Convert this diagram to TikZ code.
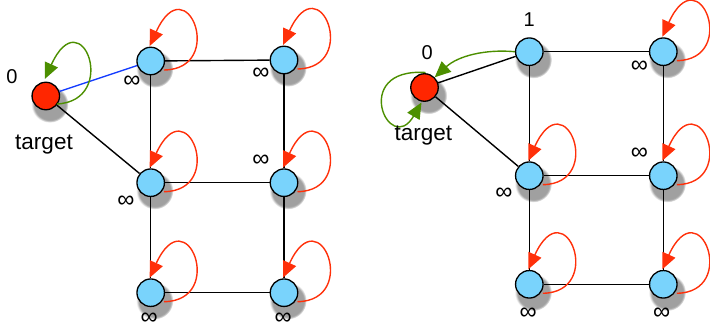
\documentclass[tikz,border=0pt]{standalone}
\usepackage{fontspec}
\setmainfont{Liberation Sans}
\usetikzlibrary{arrows.meta,shadows,calc}
\definecolor{nodeblue}{RGB}{121,211,252}
\definecolor{targetred}{RGB}{255,38,0}
\definecolor{loopred}{RGB}{255,48,10}
\definecolor{pathgreen}{RGB}{76,143,0}
\definecolor{edgeblue}{RGB}{20,60,255}
\tikzset{
  vertex/.style={circle, draw=black, line width=1.3pt, minimum size=27.5pt, inner sep=0pt,
    circular drop shadow={shadow xshift=3pt, shadow yshift=-6pt, shadow scale=1.35, opacity=0.75}},
  bluevertex/.style={vertex, fill=nodeblue},
  targetvertex/.style={vertex, fill=targetred},
  lbl/.style={font=\fontsize{20}{24}\selectfont, inner sep=0pt},
  inflbl/.style={font=\fontsize{24}{26}\selectfont, inner sep=0pt},
  biglbl/.style={font=\fontsize{22.5}{26}\selectfont, inner sep=0pt},
  edge/.style={line width=1.4pt, black},
  selfloop/.style={line width=1.4pt, -{Triangle[length=16pt,width=14pt]}},
  redloop/.style={selfloop, loopred},
  greenloop/.style={selfloop, pathgreen},
}
\begin{document}
\begin{tikzpicture}[x=1pt,y=-1pt]
\useasboundingbox (0,0) rectangle (710,329);

% ---------- first graph ----------
\node[targetvertex] (lt) at (45.8,96) {};
\node[bluevertex] (l11) at (150.7,61) {};
\node[bluevertex] (l12) at (284,60) {};
\node[bluevertex] (l21) at (150.7,182.7) {};
\node[bluevertex] (l22) at (284,182.7) {};
\node[bluevertex] (l31) at (150.7,292.7) {};
\node[bluevertex] (l32) at (284,292.7) {};

\draw[edge] (l11) -- (l12);
\draw[edge] (l11) -- (l21);
\draw[edge] (l12) -- (l22);
\draw[edge] (l21) -- (l22);
\draw[edge] (l21) -- (l31);
\draw[edge] (l22) -- (l32);
\draw[edge] (l31) -- (l32);
\draw[edge] (lt) -- (l21);
\draw[line width=1.4pt, edgeblue] (lt) -- (l11);

\foreach \n in {l11,l12,l21,l22,l31,l32}
  \draw[redloop, shift={(\n.center)}] (13.5,9) .. controls (76,8) and (36,-96) .. (-1,-15);
\draw[greenloop, shift={(lt.center)}] (11,8) .. controls (74,5) and (36,-98) .. (-1,-17);

\node[lbl] (l0) at (12,77) {0};
\node[biglbl] (ltt) at (44,145) {target};
\node[inflbl] (li11) at (132,81.5) {∞};
\node[inflbl] (li12) at (261,74) {∞};
\node[inflbl] (li21) at (126,202) {∞};
\node[inflbl] (li22) at (261,161) {∞};
\node[inflbl] (li31) at (149.3,319) {∞};
\node[inflbl] (li32) at (283.3,319) {∞};

% ---------- second graph ----------
\node[targetvertex] (rt) at (424.5,87.5) {};
\node[bluevertex] (r11) at (529.3,51.7) {};
\node[bluevertex] (r12) at (663.3,51.7) {};
\node[bluevertex] (r21) at (529.3,175.7) {};
\node[bluevertex] (r22) at (663.3,175.7) {};
\node[bluevertex] (r31) at (529.3,284.3) {};
\node[bluevertex] (r32) at (663.3,284.3) {};

\draw[edge] (r11) -- (r12);
\draw[edge] (r11) -- (r21);
\draw[edge] (r12) -- (r22);
\draw[edge] (r21) -- (r22);
\draw[edge] (r21) -- (r31);
\draw[edge] (r22) -- (r32);
\draw[edge] (r31) -- (r32);
\draw[edge] (rt) -- (r11);
\draw[edge] (rt) -- (r21);

\foreach \n in {r12,r21,r22,r31,r32}
  \draw[redloop, shift={(\n.center)}] (13.5,9) .. controls (76,8) and (36,-96) .. (-1,-15);
\draw[greenloop, shift={(rt.center)}] (1,-15) .. controls (-75,-20) and (-35,70) .. (-3,15);
\draw[greenloop] (r11.west) .. controls (485,49) and (458,56) .. (rt.north east);

\node[lbl] (r0) at (427.3,53) {0};
\node[lbl] (r1) at (529.3,20) {1};
\node[biglbl] (rtt) at (423.3,136) {target};
\node[inflbl] (ri12) at (639.3,66.7) {∞};
\node[inflbl] (ri22) at (639.3,154) {∞};
\node[inflbl] (ri21) at (504,193.3) {∞};
\node[inflbl] (ri31) at (528.3,313.3) {∞};
\node[inflbl] (ri32) at (661.7,313.3) {∞};
\end{tikzpicture}
\end{document}
